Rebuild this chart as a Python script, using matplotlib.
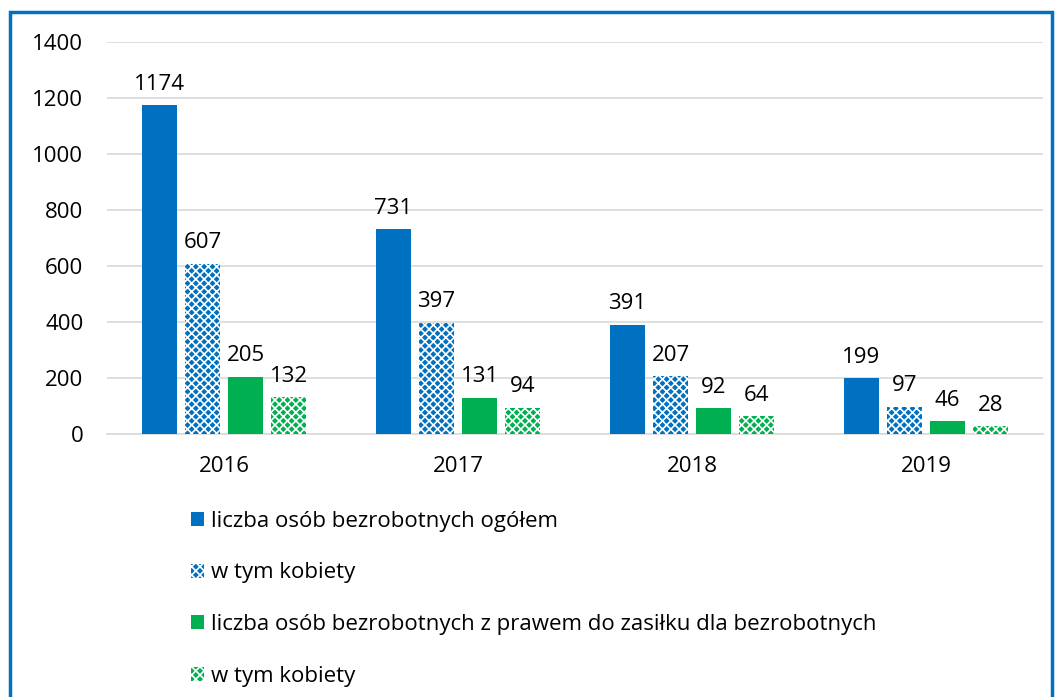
import matplotlib
matplotlib.use("Agg")
import matplotlib.pyplot as plt
import numpy as np
from matplotlib.patches import Rectangle

plt.rcParams["font.family"] = ["Open Sans", "DejaVu Sans"]
plt.rcParams["hatch.linewidth"] = 1.2

years = ["2016", "2017", "2018", "2019"]
series_names = [
    "liczba osób bezrobotnych ogółem",
    "w tym kobiety",
    "liczba osób bezrobotnych z prawem do zasiłku dla bezrobotnych",
    "w tym kobiety",
]
ogolem = [1174, 731, 391, 199]
ogolem_kobiety = [607, 397, 207, 97]
zasilek = [205, 131, 92, 46]
zasilek_kobiety = [132, 94, 64, 28]

BLUE = "#0070C0"
GREEN = "#00B050"
styles = [
    dict(color=BLUE),
    dict(facecolor=BLUE, edgecolor="white", hatch="xxxx", linewidth=0),
    dict(color=GREEN),
    dict(facecolor=GREEN, edgecolor="white", hatch="xxxx", linewidth=0),
]

fig = plt.figure(figsize=(10.59, 6.97), dpi=100)
ax = fig.add_axes([0.101, 0.377, 0.884, 0.563])

x = np.arange(len(years))
w = 0.147
step = 0.184
data = [ogolem, ogolem_kobiety, zasilek, zasilek_kobiety]
for i, (vals, st, name) in enumerate(zip(data, styles, series_names)):
    pos = x + (i - 1.5) * step
    bars = ax.bar(pos, vals, w, label=name, zorder=3, **st)
    for b, v in zip(bars, vals):
        ax.text(b.get_x() + b.get_width() / 2, v + 38, str(v), ha="center",
                va="bottom", fontsize=16, color="#000000")

ax.set_xlim(-0.5, 3.5)
ax.set_ylim(0, 1400)
ax.set_yticks(range(0, 1401, 200))
ax.set_xticks(x)
ax.set_xticklabels(years)
ax.tick_params(axis="both", length=0, labelsize=16)
ax.tick_params(axis="x", pad=16)
ax.tick_params(axis="y", pad=17)
ax.grid(axis="y", color="#D9D9D9", lw=1.2, zorder=0)
for s in ["top", "right", "left"]:
    ax.spines[s].set_visible(False)
ax.spines["bottom"].set_color("#D9D9D9")
ax.spines["bottom"].set_linewidth(1.2)

leg = fig.legend(loc="upper left", bbox_to_anchor=(0.172, 0.28), ncol=1,
                 frameon=False, fontsize=16, handlelength=0.6, handleheight=0.6,
                 handletextpad=0.3, labelspacing=1.38, borderaxespad=0)

fig.patches.append(Rectangle((10 / 1059, -0.05), 1042 / 1059, 1.05 - 12 / 697,
                             transform=fig.transFigure, fill=False,
                             edgecolor=BLUE, lw=2.5))

fig.savefig("out.png", dpi=100)
